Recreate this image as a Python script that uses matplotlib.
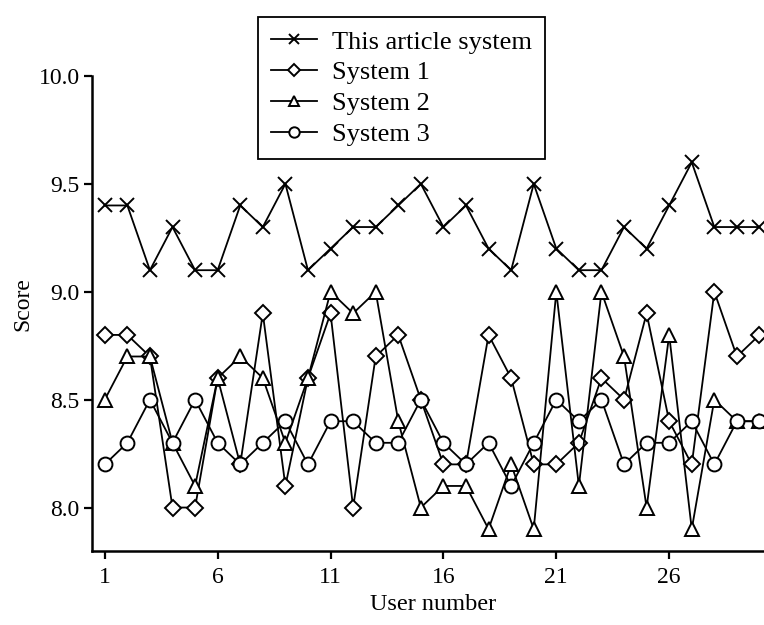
import numpy as np
import matplotlib
matplotlib.use('Agg')
import matplotlib.pyplot as plt
from matplotlib.ticker import FormatStrFormatter

# user ids and scores
users = list(range(1, 31))
this_system = [9.4, 9.4, 9.1, 9.3, 9.1, 9.1, 9.4, 9.3, 9.5, 9.1,
               9.2, 9.3, 9.3, 9.4, 9.5, 9.3, 9.4, 9.2, 9.1, 9.5,
               9.2, 9.1, 9.1, 9.3, 9.2, 9.4, 9.6, 9.3, 9.3, 9.3]
system1 = [8.8, 8.8, 8.7, 8.0, 8.0, 8.6, 8.2, 8.9, 8.1, 8.6,
           8.9, 8.0, 8.7, 8.8, 8.5, 8.2, 8.2, 8.8, 8.6, 8.2,
           8.2, 8.3, 8.6, 8.5, 8.9, 8.4, 8.2, 9.0, 8.7, 8.8]
system2 = [8.5, 8.7, 8.7, 8.3, 8.1, 8.6, 8.7, 8.6, 8.3, 8.6,
           9.0, 8.9, 9.0, 8.4, 8.0, 8.1, 8.1, 7.9, 8.2, 7.9,
           9.0, 8.1, 9.0, 8.7, 8.0, 8.8, 7.9, 8.5, 8.4, 8.4]
system3 = [8.2, 8.3, 8.5, 8.3, 8.5, 8.3, 8.2, 8.3, 8.4, 8.2,
           8.4, 8.4, 8.3, 8.3, 8.5, 8.3, 8.2, 8.3, 8.1, 8.3,
           8.5, 8.4, 8.5, 8.2, 8.3, 8.3, 8.4, 8.2, 8.4, 8.4]

series_names = ['This article system', 'System 1', 'System 2', 'System 3']
x_ticks = [1, 6, 11, 16, 21, 26]
y_ticks = [8.0, 8.5, 9.0, 9.5, 10.0]

plt.rcParams['font.family'] = ['Liberation Serif', 'DejaVu Serif']

fig = plt.figure(figsize=(7.64, 6.25), dpi=100)
ax = fig.add_axes([0.12, 0.1189, 0.88, 0.7595])

styles = [
    dict(marker='x', markersize=10),
    dict(marker='D', markersize=8),
    dict(marker='^', markersize=10),
    dict(marker='o', markersize=10),
]
all_series = [this_system, system1, system2, system3]

for i, (vals, name, st) in enumerate(zip(all_series, series_names, styles)):
    ax.plot(users, vals, color='black', linewidth=1.3,
            markerfacecolor='white', markeredgecolor='black',
            markeredgewidth=1.4, label=name, clip_on=False,
            zorder=3 + i, **st)

ax.set_xlim(0.42, 30.2)
ax.set_ylim(7.8, 10.0)
ax.set_xticks(x_ticks)
ax.set_yticks(y_ticks)
ax.yaxis.set_major_formatter(FormatStrFormatter('%.1f'))

for side in ['top', 'right']:
    ax.spines[side].set_visible(False)
for side in ['left', 'bottom']:
    ax.spines[side].set_linewidth(1.8)

ax.tick_params(axis='both', direction='out', length=5.5, width=1.6,
               labelsize=17, pad=3)
ax.tick_params(axis='x', pad=6)

ax.set_xlabel('User number', fontsize=17.5)
ax.set_ylabel('Score', fontsize=17)
ax.xaxis.label.set_va('center')
ax.yaxis.label.set_va('center')
ax.xaxis.set_label_coords(0.508, -0.114)
ax.yaxis.set_label_coords(-0.102, 0.52)

leg = fig.legend(loc='upper center', bbox_to_anchor=(0.5255, 0.973),
                 fontsize=19, frameon=True, fancybox=False, framealpha=1,
                 edgecolor='black', handlelength=1.75, handletextpad=0.55,
                 labelspacing=0.28, borderpad=0.5, borderaxespad=0,
                 markerscale=0.75)
leg.get_frame().set_linewidth(1.3)

fig.savefig('out.png', dpi=100)
